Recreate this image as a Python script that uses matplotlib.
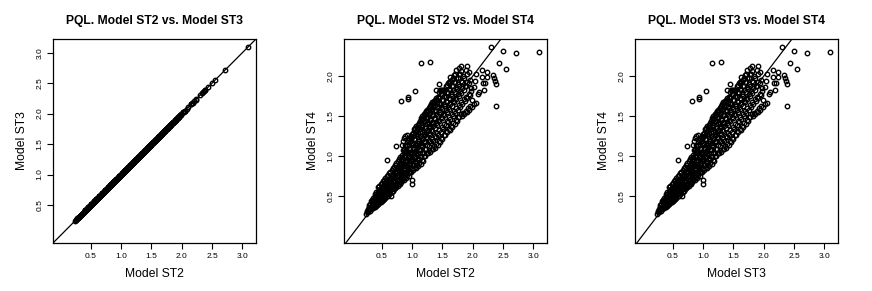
import matplotlib
matplotlib.use("Agg")
import matplotlib.pyplot as plt

plt.rcParams['font.family'] = ['Liberation Sans', 'DejaVu Sans']

# dense core of the cloud (small estimates)
core_st2 = [0.24, 0.26, 0.25, 0.28, 0.27, 0.29,
            0.30, 0.31, 0.29, 0.32, 0.33, 0.31, 0.32,
            0.34, 0.35, 0.33, 0.34, 0.36, 0.37, 0.35, 0.36,
            0.38, 0.39, 0.37, 0.38, 0.39,
            0.40, 0.41, 0.40, 0.39, 0.41,
            0.42, 0.43, 0.42, 0.41, 0.43,
            0.44, 0.45, 0.44, 0.43, 0.45, 0.44,
            0.46, 0.47, 0.46, 0.45, 0.47, 0.46,
            0.48, 0.49, 0.48, 0.47, 0.49, 0.48,
            0.50, 0.51, 0.50, 0.49, 0.51, 0.50,
            0.52, 0.53, 0.52, 0.51, 0.53, 0.52,
            0.54, 0.55, 0.54, 0.53, 0.55, 0.54,
            0.56, 0.57, 0.56, 0.55, 0.57, 0.56,
            0.58, 0.59, 0.58, 0.57, 0.59, 0.58,
            0.60, 0.61, 0.60, 0.59, 0.61, 0.60,
            0.62, 0.63, 0.62, 0.61, 0.63, 0.62,
            0.64, 0.65, 0.64, 0.63, 0.65, 0.64,
            0.66, 0.67, 0.66, 0.65, 0.67, 0.66,
            0.68, 0.69, 0.68, 0.67, 0.69, 0.68,
            0.70, 0.71, 0.70, 0.69, 0.71, 0.70,
            0.72, 0.73, 0.72, 0.71, 0.73, 0.72,
            0.74, 0.75, 0.74, 0.73, 0.75, 0.74,
            0.76, 0.77, 0.76, 0.75, 0.77, 0.76,
            0.78, 0.79, 0.78, 0.77, 0.79, 0.78,
            0.80, 0.81, 0.80, 0.79, 0.81, 0.80]
core_st4 = [0.27, 0.29, 0.31, 0.30, 0.33, 0.36,
            0.31, 0.34, 0.38, 0.33, 0.36, 0.40, 0.43,
            0.34, 0.37, 0.41, 0.45, 0.35, 0.39, 0.43, 0.47,
            0.36, 0.40, 0.44, 0.48, 0.52,
            0.37, 0.41, 0.45, 0.49, 0.54,
            0.38, 0.42, 0.46, 0.50, 0.55,
            0.40, 0.44, 0.48, 0.52, 0.57, 0.61,
            0.41, 0.45, 0.49, 0.53, 0.58, 0.62,
            0.42, 0.46, 0.50, 0.55, 0.60, 0.64,
            0.43, 0.47, 0.52, 0.56, 0.61, 0.66,
            0.45, 0.49, 0.53, 0.58, 0.63, 0.68,
            0.46, 0.50, 0.55, 0.60, 0.65, 0.70,
            0.47, 0.52, 0.57, 0.62, 0.67, 0.72,
            0.49, 0.53, 0.58, 0.63, 0.68, 0.74,
            0.50, 0.55, 0.60, 0.65, 0.70, 0.76,
            0.52, 0.57, 0.62, 0.67, 0.72, 0.78,
            0.53, 0.58, 0.63, 0.68, 0.74, 0.80,
            0.55, 0.60, 0.65, 0.70, 0.76, 0.82,
            0.56, 0.61, 0.67, 0.72, 0.77, 0.84,
            0.58, 0.63, 0.68, 0.74, 0.79, 0.86,
            0.59, 0.65, 0.70, 0.76, 0.81, 0.88,
            0.61, 0.66, 0.72, 0.78, 0.84, 0.91,
            0.62, 0.68, 0.74, 0.80, 0.86, 0.93,
            0.64, 0.70, 0.76, 0.82, 0.88, 0.96,
            0.65, 0.71, 0.78, 0.84, 0.90, 0.98]

# main band, moderate estimates
band_st2 = [0.82, 0.83, 0.81, 0.82, 0.83, 0.81, 0.82, 0.83,
            0.84, 0.85, 0.83, 0.84, 0.85, 0.83, 0.84, 0.85, 0.83,
            0.86, 0.87, 0.85, 0.86, 0.87, 0.85, 0.86, 0.87, 0.85,
            0.88, 0.89, 0.87, 0.88, 0.89, 0.87, 0.88, 0.89, 0.87,
            0.90, 0.91, 0.89, 0.90, 0.91, 0.89, 0.90, 0.91, 0.89,
            0.92, 0.93, 0.91, 0.92, 0.93, 0.91, 0.92, 0.93, 0.91,
            0.94, 0.95, 0.93, 0.94, 0.95, 0.93, 0.94, 0.95,
            0.96, 0.97, 0.95, 0.96, 0.97, 0.95, 0.96, 0.97,
            0.98, 0.99, 0.97, 0.98, 0.99, 0.97, 0.98, 0.99,
            1.00, 1.01, 0.99, 1.00, 1.01, 0.99, 1.00, 1.01,
            1.02, 1.03, 1.01, 1.02, 1.03, 1.01, 1.02, 1.03,
            1.04, 1.05, 1.03, 1.04, 1.05, 1.03, 1.04, 1.05,
            1.06, 1.07, 1.05, 1.06, 1.07, 1.05, 1.06, 1.07,
            1.08, 1.09, 1.07, 1.08, 1.09, 1.07, 1.08, 1.09,
            1.10, 1.11, 1.09, 1.10, 1.11, 1.09, 1.10, 1.11,
            1.12, 1.13, 1.11, 1.12, 1.13, 1.11, 1.12, 1.13,
            1.14, 1.15, 1.13, 1.14, 1.15, 1.13, 1.14, 1.15,
            1.16, 1.17, 1.15, 1.16, 1.17, 1.15, 1.16, 1.17,
            1.18, 1.19, 1.17, 1.18, 1.19, 1.17, 1.18, 1.19,
            1.20, 1.21, 1.19, 1.20, 1.21, 1.19, 1.20, 1.21,
            1.22, 1.23, 1.21, 1.22, 1.23, 1.21, 1.22, 1.23,
            1.24, 1.25, 1.23, 1.24, 1.25, 1.23, 1.24, 1.25,
            1.26, 1.27, 1.25, 1.26, 1.27, 1.25, 1.26, 1.27,
            1.28, 1.29, 1.27, 1.28, 1.29, 1.27, 1.28, 1.29,
            1.30, 1.31, 1.29, 1.30, 1.31, 1.29, 1.30, 1.31,
            1.32, 1.33, 1.31, 1.32, 1.33, 1.31, 1.32,
            1.34, 1.35, 1.33, 1.34, 1.35, 1.33, 1.34,
            1.36, 1.37, 1.35, 1.36, 1.37, 1.35, 1.36,
            1.38, 1.39, 1.37, 1.38, 1.39, 1.37, 1.38,
            1.40, 1.41, 1.39, 1.40, 1.41, 1.39, 1.40,
            1.42, 1.43, 1.41, 1.42, 1.43, 1.41, 1.42,
            1.44, 1.45, 1.43, 1.44, 1.45, 1.43, 1.44,
            1.46, 1.47, 1.45, 1.46, 1.47, 1.45, 1.46,
            1.48, 1.49, 1.47, 1.48, 1.49, 1.47,
            1.50, 1.51, 1.49, 1.50, 1.51, 1.49, 1.50,
            1.52, 1.53, 1.51, 1.52, 1.53, 1.51,
            1.54, 1.55, 1.53, 1.54, 1.55, 1.53,
            1.56, 1.57, 1.55, 1.56, 1.57, 1.55,
            1.58, 1.59, 1.57, 1.58, 1.59, 1.57,
            1.60, 1.61, 1.59, 1.60, 1.61, 1.59,
            1.62, 1.63, 1.61, 1.62, 1.63, 1.61,
            1.64, 1.65, 1.63, 1.64, 1.65, 1.63,
            1.66, 1.67, 1.65, 1.66, 1.67, 1.65,
            1.68, 1.69, 1.67, 1.68, 1.69, 1.67,
            1.70, 1.71, 1.69, 1.70, 1.71, 1.69,
            1.72, 1.73, 1.71, 1.72, 1.73,
            1.74, 1.75, 1.73, 1.74, 1.75, 1.73,
            1.76, 1.77, 1.75, 1.76, 1.77,
            1.78, 1.79, 1.77, 1.78, 1.79, 1.77,
            1.80, 1.81, 1.79, 1.80, 1.81,
            1.82, 1.83, 1.81, 1.82,
            1.84, 1.85, 1.83, 1.84,
            1.86, 1.87, 1.85, 1.86,
            1.88, 1.89, 1.87, 1.88,
            1.90, 1.91, 1.89, 1.90,
            1.92, 1.93, 1.91,
            1.94, 1.95, 1.93, 1.94,
            1.96, 1.97, 1.95,
            1.98, 1.99, 1.97]
band_st4 = [0.67, 0.70, 0.76, 0.80, 0.86, 0.89, 0.95, 0.99,
            0.70, 0.76, 0.80, 0.87, 0.90, 0.96, 1.01, 1.07, 1.13,
            0.70, 0.74, 0.79, 0.82, 0.88, 0.94, 1.00, 1.07, 1.19,
            0.73, 0.78, 0.84, 0.89, 0.93, 1.00, 1.06, 1.13, 1.22,
            0.72, 0.78, 0.83, 0.87, 0.93, 0.99, 1.06, 1.14, 1.25,
            0.76, 0.82, 0.87, 0.93, 0.98, 1.05, 1.12, 1.20, 1.26,
            0.75, 0.80, 0.86, 0.93, 0.98, 1.05, 1.13, 1.21,
            0.79, 0.86, 0.91, 0.97, 1.03, 1.10, 1.18, 1.24,
            0.79, 0.84, 0.91, 0.96, 1.03, 1.10, 1.19, 1.27,
            0.83, 0.89, 0.95, 1.02, 1.08, 1.16, 1.24, 1.29,
            0.82, 0.88, 0.95, 1.01, 1.08, 1.15, 1.25, 1.33,
            0.86, 0.93, 0.99, 1.06, 1.14, 1.21, 1.30, 1.35,
            0.85, 0.91, 0.99, 1.06, 1.13, 1.21, 1.30, 1.37,
            0.89, 0.97, 1.04, 1.11, 1.19, 1.27, 1.35, 1.39,
            0.87, 0.95, 1.03, 1.11, 1.18, 1.27, 1.35, 1.41,
            0.91, 1.00, 1.09, 1.16, 1.25, 1.33, 1.40, 1.44,
            0.90, 0.99, 1.07, 1.16, 1.25, 1.33, 1.41, 1.47,
            0.95, 1.04, 1.13, 1.22, 1.30, 1.39, 1.46, 1.50,
            0.94, 1.03, 1.12, 1.21, 1.30, 1.39, 1.46, 1.52,
            1.00, 1.09, 1.18, 1.27, 1.35, 1.44, 1.50, 1.54,
            1.00, 1.09, 1.17, 1.26, 1.35, 1.43, 1.51, 1.56,
            1.04, 1.14, 1.23, 1.32, 1.41, 1.49, 1.55, 1.58,
            1.03, 1.12, 1.22, 1.31, 1.40, 1.49, 1.56, 1.60,
            1.07, 1.18, 1.28, 1.37, 1.46, 1.54, 1.60, 1.62,
            1.05, 1.16, 1.27, 1.36, 1.45, 1.54, 1.60, 1.65,
            1.09, 1.21, 1.32, 1.42, 1.51, 1.59, 1.67,
            1.08, 1.19, 1.31, 1.41, 1.51, 1.59, 1.66,
            1.12, 1.25, 1.37, 1.47, 1.57, 1.64, 1.69,
            1.10, 1.23, 1.35, 1.46, 1.56, 1.64, 1.70,
            1.15, 1.29, 1.41, 1.52, 1.61, 1.69, 1.72,
            1.13, 1.26, 1.39, 1.50, 1.60, 1.68, 1.74,
            1.18, 1.32, 1.45, 1.57, 1.66, 1.74, 1.80,
            1.17, 1.30, 1.43, 1.55, 1.65, 1.73, 1.82,
            1.22, 1.36, 1.49, 1.61, 1.70, 1.78,
            1.21, 1.34, 1.47, 1.59, 1.70, 1.78, 1.83,
            1.26, 1.40, 1.53, 1.65, 1.75, 1.82,
            1.26, 1.38, 1.51, 1.63, 1.74, 1.83,
            1.31, 1.44, 1.57, 1.69, 1.80, 1.87,
            1.30, 1.42, 1.55, 1.67, 1.79, 1.89,
            1.34, 1.48, 1.61, 1.73, 1.84, 1.91,
            1.32, 1.46, 1.59, 1.71, 1.83, 1.92,
            1.37, 1.52, 1.65, 1.77, 1.88, 1.94,
            1.36, 1.50, 1.63, 1.75, 1.87, 1.95,
            1.41, 1.56, 1.69, 1.82, 1.93, 1.98,
            1.40, 1.54, 1.67, 1.80, 1.92, 2.01,
            1.45, 1.60, 1.73, 1.86, 1.98,
            1.44, 1.58, 1.71, 1.84, 1.97, 2.07,
            1.49, 1.64, 1.77, 1.90, 2.02,
            1.48, 1.61, 1.75, 1.88, 2.02, 2.10,
            1.52, 1.67, 1.81, 1.94, 2.06,
            1.50, 1.65, 1.79, 1.93,
            1.54, 1.71, 1.85, 2.00,
            1.52, 1.69, 1.83, 1.98,
            1.56, 1.74, 1.88, 2.08,
            1.55, 1.73, 1.87, 2.02,
            1.60, 1.78, 1.92,
            1.58, 1.76, 1.91, 2.05,
            1.63, 1.81, 1.95,
            1.61, 1.70, 1.85]

# sparse upper tail
tail_st2 = [2.02, 2.02, 2.05, 2.05, 2.03, 2.08, 2.10, 2.15, 2.15, 2.18,
            2.17, 2.20, 2.23, 2.24, 2.30, 2.33, 2.35, 2.37, 2.39, 2.38,
            2.43, 2.50, 2.55, 2.71, 3.10]
tail_st4 = [1.65, 1.86, 2.03, 1.66, 1.94, 1.78, 1.80, 2.07, 1.99, 1.82,
            1.91, 1.91, 2.05, 1.99, 2.37, 2.01, 1.98, 1.94, 1.90, 1.63,
            2.16, 2.31, 2.09, 2.29, 2.30]

# isolated points off the band
outlier_st2 = [0.59, 0.74, 0.81, 0.93, 0.93, 1.04, 1.14, 1.30, 0.99, 1.00,
               0.65, 1.44, 1.39, 1.47, 1.62, 1.70, 1.80, 1.90]
outlier_st4 = [0.95, 1.12, 1.69, 1.74, 1.71, 1.81, 2.16, 2.18, 0.69, 0.65,
               0.50, 1.90, 1.82, 1.82, 1.99, 2.03, 2.12, 2.12]

st2 = core_st2 + band_st2 + tail_st2 + outlier_st2
st4 = core_st4 + band_st4 + tail_st4 + outlier_st4
st3 = list(st2)  # ST3 estimates coincide with ST2

ticks_wide = [0.5, 1.0, 1.5, 2.0, 2.5, 3.0]
ticks_st4 = [0.5, 1.0, 1.5, 2.0]

panels = [(st2, st3, "Model ST2", "Model ST3", ticks_wide),
          (st2, st4, "Model ST2", "Model ST4", ticks_st4),
          (st3, st4, "Model ST3", "Model ST4", ticks_st4)]
lefts = [53 / 872, 344 / 872, 635 / 872]


def main():
    assert len(core_st2) == len(core_st4)
    assert len(band_st2) == len(band_st4)
    fig = plt.figure(figsize=(8.72, 2.91), dpi=100)

    for (x, y, xlab, ylab, yt), left in zip(panels, lefts):
        ax = fig.add_axes([left, 48 / 291, 203 / 872, 204 / 291])
        ax.plot(x, y, 'o', mfc='none', mec='black', ms=3.2, mew=1.0)
        ax.axline((0, 0), slope=1, color='black', lw=0.9)
        ax.margins(0.04)
        ax.set_xticks(ticks_wide)
        ax.set_yticks(yt)
        ax.tick_params(direction='out', length=4, width=0.8, labelsize=6, pad=3)
        for lab in ax.get_yticklabels():
            lab.set_rotation(90)
            lab.set_va('center')
        for s in ax.spines.values():
            s.set_linewidth(0.9)
        ax.set_xlabel(xlab, fontsize=8.7, labelpad=6)
        ax.set_ylabel(ylab, fontsize=8.7, labelpad=6)
        ax.set_title("PQL. %s vs. %s" % (xlab, ylab), fontsize=8.7,
                     fontweight='bold', pad=11)

    fig.savefig("out.png", dpi=100)


if __name__ == '__main__':
    main()
